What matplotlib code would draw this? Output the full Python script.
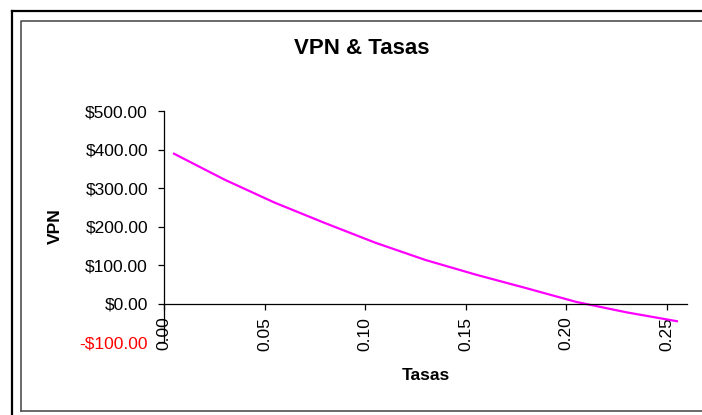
#! /usr/bin/env python
"""VPN vs. tasas chart (Excel style)."""

import matplotlib
matplotlib.use('Agg')
import matplotlib.pyplot as plt
from matplotlib.lines import Line2D

plt.rcParams['font.family'] = ['Liberation Sans', 'DejaVu Sans']

# Data
tasas = [0.005, 0.03, 0.055, 0.08, 0.105, 0.13, 0.155, 0.18, 0.205, 0.23, 0.255]
vpn = [389, 322, 262, 209, 158, 113, 75, 40, 4, -23, -46]

x_ticks = [0.00, 0.05, 0.10, 0.15, 0.20, 0.25]
x_tick_labels = ['0.00', '0.05', '0.10', '0.15', '0.20', '0.25']
y_ticks = [-100, 0, 100, 200, 300, 400, 500]
y_tick_labels = ['-$100.00', '$0.00', '$100.00', '$200.00', '$300.00',
                 '$400.00', '$500.00']

W, H = 702, 415
fig = plt.figure(figsize=(W / 100, H / 100), dpi=100)
fig.patch.set_facecolor('white')

# Chart frames (outer thick black, inner grey)
fig.add_artist(Line2D([11.5 / W, 11.5 / W], [0, 1 - 11.5 / H], color='black',
                      lw=1.6, transform=fig.transFigure))
fig.add_artist(Line2D([11.5 / W, 1], [1 - 11.5 / H, 1 - 11.5 / H], color='black',
                      lw=1.6, transform=fig.transFigure))
inner = [(21 / W, 1 - 410.5 / H), (21 / W, 1 - 21 / H), (1, 1 - 21 / H)]
fig.add_artist(Line2D([p[0] for p in inner], [p[1] for p in inner],
                      color='#505050', lw=1.2, transform=fig.transFigure))
fig.add_artist(Line2D([21 / W, 1], [1 - 410.5 / H, 1 - 410.5 / H],
                      color='#505050', lw=1.2, transform=fig.transFigure))

ax = fig.add_axes([164 / W, 1 - 342 / H, (687 - 164) / W, (342 - 111) / H])
ax.set_facecolor('none')

ax.plot(tasas, vpn, color='#FF00FF', lw=1.6)

ax.set_xlim(0, 0.26)
ax.set_ylim(-100, 500)

ax.spines['top'].set_visible(False)
ax.spines['right'].set_visible(False)
ax.spines['bottom'].set_position(('data', 0))
ax.spines['left'].set_linewidth(0.9)
ax.spines['bottom'].set_linewidth(0.9)

ax.set_xticks(x_ticks)
ax.set_xticklabels(x_tick_labels, rotation=90, fontsize=12.5)
ax.set_yticks(y_ticks)
ax.set_yticklabels(y_tick_labels, fontsize=12.5)
for lab, val in zip(ax.get_yticklabels(), y_ticks):
    if val < 0:
        lab.set_color('#FF0000')

ax.tick_params(axis='x', direction='out', length=4.5, width=0.9, pad=5)
ax.tick_params(axis='y', direction='out', length=4.5, width=0.9, pad=7)

ax.set_xlabel('Tasas', fontsize=12.5, fontweight='bold', va='center')
ax.xaxis.set_label_coords(0.5, -0.143)
ax.set_ylabel('VPN', fontsize=12.5, fontweight='bold', va='center')
ax.yaxis.set_label_coords(-0.208, 0.5)

fig.text(362 / W, 1 - 49 / H, 'VPN & Tasas', fontsize=16, fontweight='bold',
         ha='center', va='center')

fig.savefig('out.png', dpi=100)
